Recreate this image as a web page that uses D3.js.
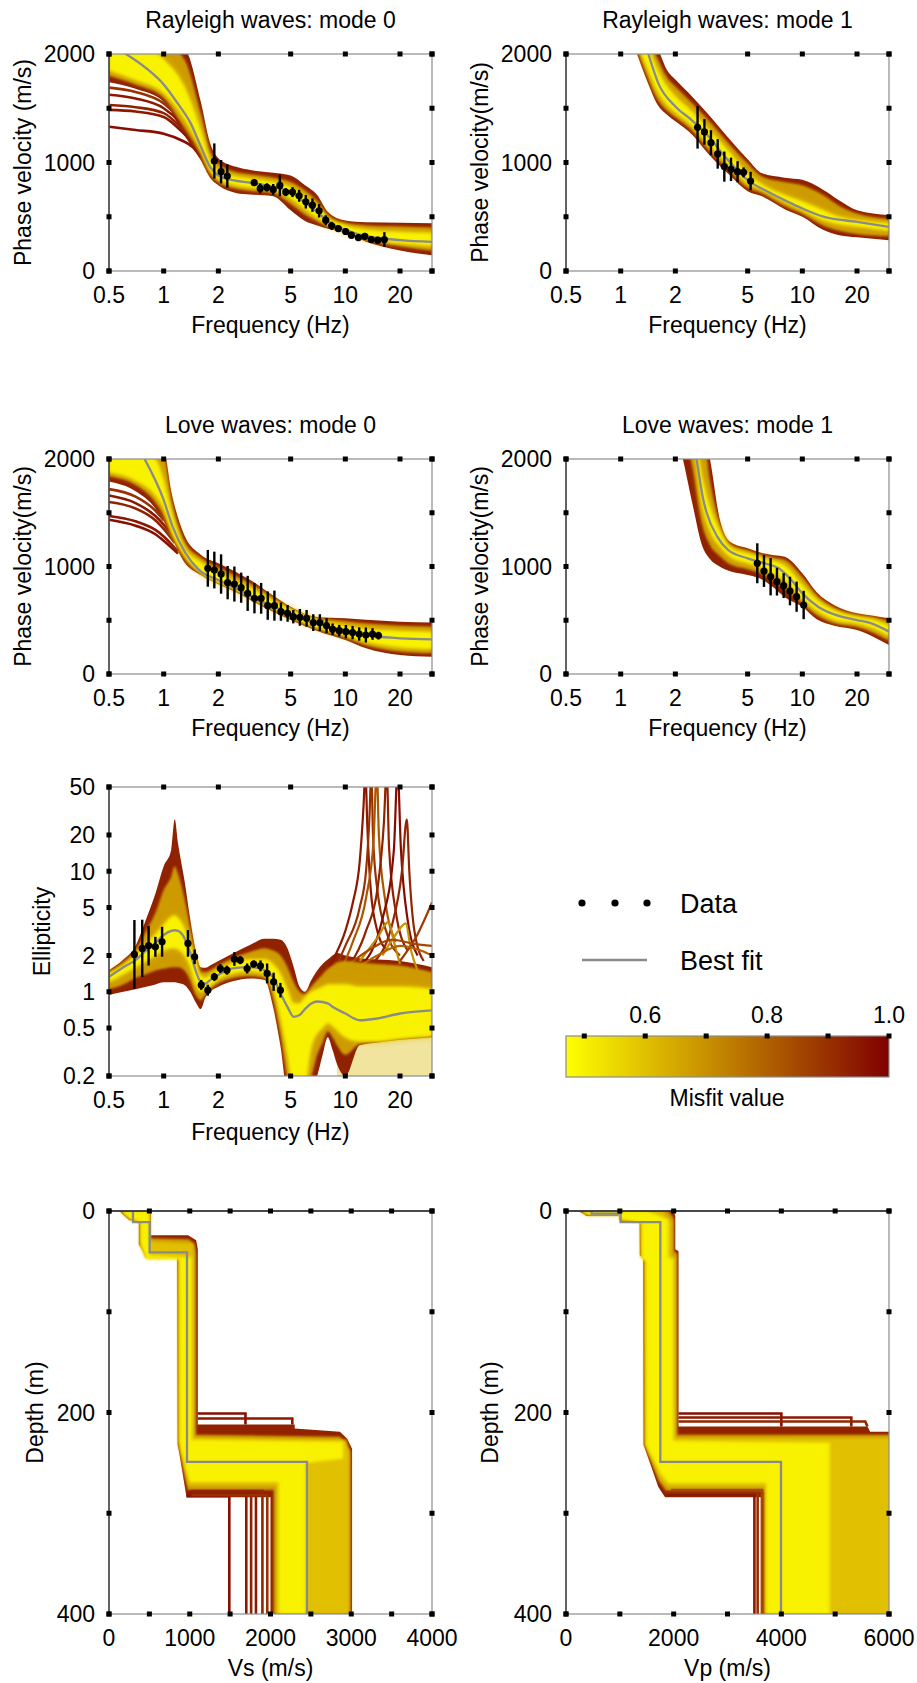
<!DOCTYPE html>
<html><head><meta charset="utf-8">
<script src="https://cdn.jsdelivr.net/npm/d3@7/dist/d3.min.js"></script>
<style>
html,body{margin:0;padding:0;background:#fff;}
svg text{font-family:"Liberation Sans",Arial,Helvetica,sans-serif;fill:#000;}
</style></head><body>
<svg id="chart" width="917" height="1683"></svg>
<script>
// ================= DATA =================
const freqTicks=[0.5,1,2,5,10,20,30];
const freqLabels=[[0.5,"0.5"],[1,"1"],[2,"2"],[5,"5"],[10,"10"],[20,"20"]];
const velTicks=[0,500,1000,1500,2000];
const velLabels=[0,1000,2000];
const ellTicks=[0.2,0.5,1,2,5,10,20,50];
const ellLabels=[[0.2,"0.2"],[0.5,"0.5"],[1,"1"],[2,"2"],[5,"5"],[10,"10"],[20,"20"],[50,"50"]];
const misfitTicks=[0.5,0.6,0.7,0.8,0.9,1.0];
const misfitLabels=[[0.6,"0.6"],[0.8,"0.8"],[1.0,"1.0"]];
const depthTicks=[0,100,200,300,400];
const depthLabels=[0,200,400];
const vsTicks=[0,500,1000,1500,2000,2500,3000,3500,4000];
const vsLabels=[0,1000,2000,3000,4000];
const vpTicks=[0,1000,2000,3000,4000,5000,6000];
const vpLabels=[0,2000,4000,6000];

// Rayleigh mode 0
const r0Freq=[0.5,0.7,1.0,1.3,1.6,1.8,2.0,2.5,3,4,5,6,7,8,10,13,20,30];
const r0OuterHi=[2100,2100,2100,2050,1560,1180,1040,960,930,905,880,790,700,545,465,450,445,440];
const r0OuterLo=[1740,1680,1560,1250,1020,860,790,720,705,690,560,460,420,390,350,270,190,145];
const r0MidHi=[2100,2100,2100,1950,1450,1100,990,910,890,860,820,740,640,510,440,420,410,400];
const r0MidLo=[1800,1720,1600,1320,1080,900,820,760,740,720,620,520,460,410,360,295,230,190];
const r0InnerHi=[2100,2100,1950,1700,1300,1030,930,870,850,820,770,690,600,490,420,380,360,350];
const r0InnerLo=[1850,1760,1640,1400,1120,930,850,790,770,750,670,570,490,430,360,300,255,230];
const r0Outliers=[
 [[0.5,1330],[0.7,1300],[1.0,1265],[1.25,1205],[1.45,1140],[1.6,1050]],
 [[0.5,1485],[0.7,1470],[1.0,1420],[1.25,1290],[1.45,1180]],
 [[0.5,1530],[0.7,1510],[1.0,1455],[1.25,1320],[1.45,1200]],
 [[0.5,1625],[0.7,1590],[1.0,1500],[1.25,1360],[1.45,1230]],
 [[0.5,1690],[0.7,1650],[1.0,1545],[1.25,1390]]];
const r0OutlierMisfit=[0.97,0.95,0.93,0.95,0.9];
const r0BestF=[0.5,0.62,0.8,1.0,1.2,1.4,1.6,1.8,2.0,2.4,3,4,5,6,7,8,10,12,15,20,30];
const r0BestV=[2090,2000,1870,1720,1540,1370,1150,960,880,838,814,777,725,630,545,460,380,335,305,285,268];
const r0DataF=[1.90,2.07,2.24,3.15,3.40,3.70,4.01,4.36,4.70,5.12,5.57,6.06,6.59,7.17,7.80,8.41,9.15,10.04,10.8,11.8,12.8,13.9,15.1,16.4];
const r0DataV=[1014,915,875,814,761,770,752,789,727,727,693,638,607,555,468,416,391,364,330,308,320,290,284,290];
const r0DataErr=[162,108,108,31,46,38,50,100,37,46,55,62,62,62,46,37,31,31,31,31,31,31,31,68];

// Rayleigh mode 1
const r1Freq=[1.2,1.4,1.6,1.8,2.0,2.5,3,4,5,6,8,10,13,16,20,30];
const r1OuterHi=[2300,2200,2050,1850,1765,1600,1455,1210,1030,900,860,840,750,650,560,515];
const r1OuterLo=[2050,1750,1530,1440,1380,1250,1090,880,735,690,570,500,380,330,310,284];
const r1MidHi=[2250,2150,1950,1780,1700,1540,1400,1160,990,870,820,790,700,600,530,480];
const r1MidLo=[2100,1800,1580,1480,1420,1290,1130,920,770,720,600,530,420,370,340,320];
const r1InnerHi=[2200,2080,1850,1700,1610,1460,1320,1090,900,800,700,640,560,500,470,440];
const r1InnerLo=[2150,1870,1650,1530,1460,1330,1180,970,810,750,640,560,470,430,410,370];
const r1BestF=[1.42,1.61,2.0,2.45,3.05,3.75,5.0,6.2,8.7,10,13.2,20,30];
const r1BestV=[2000,1732,1516,1393,1239,1054,838,746,623,576,499,453,407];
const r1DataF=[2.65,2.89,3.14,3.42,3.72,4.05,4.40,4.75,5.19];
const r1DataV=[1325,1282,1183,1079,962,937,915,909,829];
const r1DataErr=[197,118,115,136,139,108,97,46,85];

// Love mode 0
const l0Freq=[0.5,0.7,0.9,1.0,1.1,1.3,1.6,2.0,2.5,3,4,5,7,10,13,20,30];
const l0OuterHi=[2100,2100,2100,2080,1700,1290,1110,1030,950,875,730,626,530,518,505,487,478];
const l0OuterLo=[1790,1700,1540,1420,1280,1040,920,835,760,688,580,502,400,316,239,177,161];
const l0MidHi=[2100,2100,2100,2050,1620,1230,1080,990,910,840,710,615,520,490,470,450,440];
const l0MidLo=[1840,1760,1600,1480,1310,1080,935,845,775,705,595,520,420,340,270,210,195];
const l0InnerHi=[2100,2100,2000,1800,1520,1180,1040,940,860,800,680,600,500,450,420,400,390];
const l0InnerLo=[1880,1800,1660,1540,1340,1110,945,855,785,715,610,535,435,360,300,250,235];
const l0Outliers=[
 [[0.5,1435],[0.7,1380],[0.9,1300],[1.0,1240],[1.2,1120]],
 [[0.5,1470],[0.7,1420],[0.9,1340],[1.0,1280],[1.2,1140]],
 [[0.5,1600],[0.7,1540],[0.9,1430],[1.0,1350],[1.15,1220]],
 [[0.5,1660],[0.7,1590],[0.9,1470],[1.0,1390],[1.1,1300]],
 [[0.5,1720],[0.7,1650],[0.9,1520],[1.0,1430]]];
const l0OutlierMisfit=[0.97,0.95,0.93,0.95,0.9];
const l0BestF=[0.785,1.0,1.12,1.32,1.57,2.0,2.6,3.65,5.0,6.8,10,12.8,20,30];
const l0BestV=[2000,1619,1371,1123,967,874,781,657,564,471,409,363,332,322];
const l0DataF=[1.75,1.90,2.07,2.25,2.45,2.67,2.90,3.16,3.44,3.74,4.07,4.42,4.81,5.17,5.62,6.12,6.66,7.24,7.88,8.51,9.26,10.07,10.96,11.92,12.97,14.11,15.22];
const l0DataV=[983,967,930,850,837,803,750,704,704,636,636,580,564,533,527,518,478,478,450,416,403,394,385,372,363,372,357];
const l0DataErr=[171,171,183,155,163,140,163,140,143,132,140,85,78,62,78,78,78,78,70,54,54,62,62,62,70,54,36];

// Love mode 1
const l1Freq=[2.0,2.2,2.5,2.8,3.1,3.5,4,5,6,7,8,10,12,15,20,25,30];
const l1OuterHi=[2300,2300,2300,2300,2000,1450,1230,1169,1125,1105,1090,937,760,640,564,540,518];
const l1OuterLo=[2300,2000,1560,1200,1070,1000,955,921,880,800,715,626,510,450,409,340,270];
const l1MidHi=[2300,2300,2300,2300,1800,1400,1210,1150,1105,1080,1060,900,730,615,548,525,490];
const l1MidLo=[2300,2250,1900,1400,1200,1100,1020,975,930,860,790,660,550,475,440,380,310];
const l1InnerHi=[2300,2300,2300,1850,1560,1340,1180,1120,1080,1050,1010,830,690,590,530,500,450];
const l1InnerLo=[2300,2300,2150,1580,1330,1190,1090,1030,985,930,870,700,590,505,470,420,350];
const l1BestF=[2.62,2.85,2.98,3.4,3.9,5.0,6.2,7.4,8.7,10,12.2,16.4,20,24,30];
const l1BestV=[2000,1620,1495,1278,1154,1076,1030,983,874,750,626,533,502,471,394];
const l1DataF=[5.65,6.15,6.69,7.25,7.89,8.55,9.30,10.17];
const l1DataV=[1030,958,905,859,822,772,719,642];
const l1DataErr=[186,148,174,129,116,133,140,132];

// Ellipticity
const eFreq=[0.5,0.6,0.7,0.8,0.9,1.0,1.1,1.15,1.2,1.3,1.4,1.5,1.6,1.7,1.8,2.0,2.4,3.0,3.6,4.0,4.4,4.8,5.2,5.6,6.0,6.5,7.0,7.5,8.0,8.5,9.0,10,12,15,20,30];
const eOuterHi=[1.51,1.85,2.4,4.0,6.5,11,15,27,17,8.5,4.0,2.2,1.6,1.58,1.65,1.8,2.08,2.45,2.75,2.75,2.7,2.3,1.6,1.1,1.0,1.25,1.5,1.7,1.85,2.0,2.1,2.0,1.9,1.85,1.8,1.6];
const eOuterLo=[0.94,1.0,1.05,1.1,1.15,1.2,1.2,1.2,1.18,1.14,1.0,0.82,0.72,0.9,1.0,1.1,1.22,1.29,1.25,0.75,0.35,0.15,0.15,0.15,0.15,0.15,0.2,0.3,0.42,0.33,0.25,0.2,0.36,0.38,0.4,0.42];
const eMidHi=[1.45,1.75,2.2,3.2,4.5,7,9,11,9.5,6,3.4,2.0,1.45,1.45,1.5,1.65,1.9,2.15,2.3,2.2,2.0,1.6,1.2,1.0,0.95,1.1,1.25,1.4,1.55,1.65,1.75,1.8,1.75,1.7,1.65,1.45];
const eMidLo=[1.05,1.15,1.3,1.4,1.5,1.55,1.6,1.6,1.6,1.5,1.25,0.95,0.85,0.95,1.05,1.18,1.3,1.35,1.3,0.9,0.45,0.2,0.15,0.15,0.15,0.2,0.3,0.38,0.47,0.42,0.36,0.3,0.37,0.385,0.405,0.425];
const eInnerHi=[1.42,1.65,2.0,2.5,3.0,3.6,4.2,4.3,4.1,3.4,2.5,1.8,1.35,1.3,1.38,1.52,1.72,1.85,1.85,1.7,1.4,1.05,0.8,0.8,0.9,1.0,1.05,1.1,1.15,1.15,1.15,1.15,1.1,1.1,1.1,1.05];
const eInnerLo=[1.2,1.4,1.6,1.8,2.0,2.2,2.3,2.3,2.25,2.0,1.6,1.15,1.0,1.05,1.12,1.28,1.42,1.48,1.4,1.1,0.6,0.3,0.15,0.15,0.17,0.35,0.45,0.5,0.55,0.52,0.48,0.42,0.39,0.39,0.41,0.43];
const eSparseF=[9.0,10,12,15,20,30];
const eSparseLo=[0.15,0.15,0.15,0.15,0.15,0.15];
const eSparseHi=[0.25,0.38,0.4,0.41,0.42,0.44];
const eSpikes=[
 [[7.0,1.0],[8.5,1.8],[10,3.2],[11,5.5],[12,12],[12.6,35],[12.9,70],[13.2,25],[13.8,7],[15,3.2],[17,2.2]],
 [[8,1.2],[10,2.4],[12,5],[13,10],[13.6,30],[13.9,70],[14.2,20],[15,7],[17,3],[20,2]],
 [[9,1.3],[11,2.6],[13,6],[14.3,18],[14.9,70],[15.3,20],[16.5,6],[19,2.6]],
 [[10,1.5],[13,3.2],[15,7],[16.3,25],[16.9,70],[17.4,16],[19,4.5],[22,2.2]],
 [[12,1.6],[16,4],[18.5,15],[19.4,70],[20.2,16],[22,4],[25,2]],
 [[14,1.7],[18,3.5],[20.5,10],[21.8,27],[22.5,10],[24,3.2],[27,1.8]],
 [[12,1.8],[15,2.8],[17.3,3.8],[18.5,2.6],[20,1.7]],
 [[16,2.0],[19,3.0],[21.5,3.7],[23,2.2],[25,1.5]],
 [[20,1.8],[25,3.0],[30,5.5]],
 [[10,1.6],[14,2.3],[18,2.7],[24,2.5],[30,2.4]],
 [[11,1.5],[15,2.0],[20,2.4],[26,2.2],[30,2.0]]];
const eSpikeMisfit=[0.95,0.9,0.82,0.93,0.98,0.92,0.72,0.7,0.88,0.85,0.8];
const eBestF=[0.5,0.6,0.7,0.8,0.9,1.0,1.1,1.15,1.2,1.3,1.4,1.5,1.6,1.7,1.8,2.0,2.4,3.0,3.6,4.0,4.4,4.8,5.2,5.6,6.0,6.5,7.0,8.0,8.5,10,12,15,20,30];
const eBest=[1.33,1.6,1.83,2.2,2.55,2.96,3.2,3.24,3.2,2.8,2.1,1.5,1.2,1.17,1.25,1.38,1.56,1.6,1.51,1.32,0.97,0.75,0.62,0.64,0.72,0.8,0.83,0.8,0.75,0.66,0.58,0.6,0.66,0.70];
const eDataF=[0.69,0.762,0.826,0.90,0.98,1.36,1.48,1.61,1.75,1.90,2.05,2.23,2.45,2.64,2.88,3.13,3.41,3.71,4.03,4.39];
const eDataV=[2.04,2.29,2.41,2.36,2.60,2.52,1.95,1.14,1.03,1.33,1.56,1.51,1.87,1.83,1.56,1.70,1.64,1.42,1.21,1.03];
const eDataFac=[1.93,1.73,1.46,1.21,1.33,1.29,1.15,1.10,1.11,1.08,1.09,1.09,1.14,1.08,1.10,1.07,1.11,1.21,1.19,1.15];

// Vs profiles  ([Vs, depth])
const vsRed=[[130,0],[520,0],[520,24],[980,24],[1080,29],[1100,38],[1100,212],[2300,212],[2300,216],[2860,219],[2950,226],[3010,236],[3010,400],[2000,400],[2000,284],[960,284],[935,272],[870,240],[850,232],[845,45],[455,45],[425,40],[370,33],[370,11],[250,9],[180,4],[130,0]];
const vsOrange=[[140,0],[512,0],[512,27],[990,28],[1060,33],[1075,42],[1075,222],[2860,224],[2990,238],[2990,400],[2040,400],[2040,277],[975,277],[945,266],[875,238],[858,231],[853,46],[452,46],[428,41],[378,33],[378,11],[252,8.5],[182,3.5],[140,0]];
const vsGold=[[150,0],[506,0],[506,30],[1040,32],[1052,44],[1052,225],[2940,227],[2975,240],[2975,400],[2070,400],[2070,273],[990,273],[955,262],[882,236],[866,229],[862,47],[458,47],[432,42],[386,33],[386,11],[256,8],[186,3],[150,0]];
const vsYellow=[[165,0],[498,0],[498,44],[1025,46],[1025,227],[2900,229],[2900,246],[2440,250],[2440,400],[2100,400],[2100,269],[1000,269],[962,259],[888,235],[875,228],[872,48],[466,48],[440,42],[395,33],[395,11],[262,7.5],[192,2.5],[165,0]];
const vsOutliers=[
 [[960,283],[1490,283],[1490,400]],[[980,281],[1700,281],[1700,400]],[[990,280],[1760,280],[1760,400]],
 [[1000,279],[1820,279],[1820,400]],[[1010,278],[1900,278],[1900,400]],[[1020,282],[1960,282],[1960,400]],
 [[1100,201],[1690,201],[1690,212]],[[1100,206],[2270,206],[2270,212]]];
const vsOutlierMisfit=[0.97,0.95,0.93,0.95,0.92,0.9,0.97,0.95];
const vsBestDepth=[0,11,41,249,400];
const vsBest=[297,504,966,2452];

// Vp profiles ([Vp, depth])
const vpRed=[[230,0],[2000,0],[2030,5],[2030,38],[2090,40],[2090,214],[5600,214],[5650,219],[6100,219],[6100,400],[3620,400],[3620,284],[1840,284],[1715,274],[1560,250],[1440,232],[1435,46],[1372,44],[1368,11],[1000,11],[990,5],[380,5],[330,3],[230,0]];
const vpOrange=[[250,0],[1900,0],[1960,4],[2005,8],[2005,40],[2065,42],[2065,222],[6050,222],[6050,400],[3680,400],[3680,278],[1860,278],[1725,268],[1575,248],[1455,232],[1450,47],[1385,45],[1380,10.5],[1005,10],[995,4.5],[385,4.5],[335,2.5],[250,0]];
const vpGold=[[270,0],[1800,0],[1870,5],[1960,10],[1960,44],[2030,46],[2030,225],[6030,225],[6030,400],[3700,400],[3700,274],[1880,274],[1735,265],[1595,247],[1470,232],[1465,48],[1398,46],[1392,10],[1008,9],[998,4],[390,4],[340,2],[270,0]];
const vpYellow=[[300,0],[1500,0],[1700,4],[1900,9],[1900,46],[1990,48],[1990,228],[4900,230],[4900,400],[3720,400],[3720,270],[1900,270],[1750,260],[1615,246],[1490,232],[1485,50],[1410,48],[1405,12],[1012,8],[1002,3],[400,3],[345,1.5],[300,0]];
const vpOutliers=[
 [[1880,282],[3500,282],[3500,400]],[[1860,279],[3560,279],[3560,400]],[[1950,277],[3640,277],[3640,400]],
 [[2090,201],[4000,201],[4000,214]],[[2090,205],[5300,205],[5300,214]],[[2090,209],[5560,209],[5600,214]]];
const vpOutlierMisfit=[0.95,0.9,0.85,0.97,0.95,0.92];
const vpBestDepth=[0,2.6,11,249,400];
const vpBest=[477,1015,1752,3994];

// ================= DRAWING =================
const svg=d3.select("#chart");
const defs=svg.append("defs");
const cmap=d3.scaleLinear().domain([0.47,1.0]).range(["#ffff00","#800000"]).interpolate(d3.interpolateRgb).clamp(true);
const RED=cmap(0.93), ORANGE=cmap(0.68), GOLD=cmap(0.6), YELLOW=cmap(0.5);
const GRAY="#8a8a8a";
const FS=23;
function blur(id,s){defs.append("filter").attr("id",id).attr("x","-20%").attr("y","-20%").attr("width","140%").attr("height","140%")
  .append("feGaussianBlur").attr("stdDeviation",s);}
blur("b1",1.0); blur("b2",1.6); blur("b4",3.5);
function addClip(id,x0,y0,x1,y1){defs.append("clipPath").attr("id",id).append("rect").attr("x",x0).attr("y",y0).attr("width",x1-x0).attr("height",y1-y0);}
function txt(x,y,s,size,anchor){return svg.append("text").attr("x",x).attr("y",y).attr("font-size",size).attr("text-anchor",anchor||"middle").text(s);}
function frame(x0,y0,x1,y1,xPix,yPix,darkTop){
  svg.append("rect").attr("x",x0).attr("y",y0).attr("width",x1-x0).attr("height",y1-y0).attr("fill","none").attr("stroke","#8c8c8c").attr("stroke-width",1.2);
  svg.append("line").attr("x1",x0).attr("x2",x0).attr("y1",y0).attr("y2",y1).attr("stroke","#333").attr("stroke-width",1.3);
  if(darkTop) svg.append("line").attr("x1",x0).attr("x2",x1).attr("y1",y0).attr("y2",y0).attr("stroke","#222").attr("stroke-width",1.3);
  const pts=[];
  xPix.forEach(p=>{pts.push([p,y0]);pts.push([p,y1]);});
  yPix.forEach(p=>{pts.push([x0,p]);pts.push([x1,p]);});
  svg.append("g").selectAll("rect").data(pts).join("rect").attr("x",d=>d[0]-2.5).attr("y",d=>d[1]-2.5).attr("width",5).attr("height",5).attr("fill","#000");
}
function yTitle(x,y,s,size){svg.append("text").attr("transform",`translate(${x},${y}) rotate(-90)`).attr("dy","0.35em").attr("font-size",size).attr("text-anchor","middle").text(s);}

function dispersion(o){
  const x=d3.scaleLog().domain([0.5,30]).range([o.x0,o.x1]);
  const y=d3.scaleLinear().domain([0,2000]).range([o.y1,o.y0]);
  addClip(o.id,o.x0,o.y0,o.x1,o.y1);
  const g=svg.append("g").attr("clip-path",`url(#${o.id})`);
  const band=(lo,hi)=>d3.area().x(d=>x(d)).y0((d,i)=>y(lo[i])).y1((d,i)=>y(hi[i])).curve(d3.curveMonotoneX)(o.freq);
  const line=d3.line().x(d=>x(d[0])).y(d=>y(d[1])).curve(d3.curveMonotoneX);
  g.append("path").attr("d",band(o.outerLo,o.outerHi)).attr("fill",RED);
  (o.outliers||[]).forEach((c,i)=>g.append("path").attr("d",line(c)).attr("fill","none").attr("stroke",cmap(o.outlierMisfit[i])).attr("stroke-width",2.6));
  g.append("path").attr("d",band(o.midLo,o.midHi)).attr("fill",ORANGE).attr("filter","url(#b1)");
  g.append("path").attr("d",band(o.innerLo,o.innerHi)).attr("fill",GOLD).attr("filter","url(#b4)");
  g.append("path").attr("d",band(o.innerLo,o.innerHi)).attr("fill",YELLOW).attr("filter","url(#b2)");
  g.append("path").attr("d",line(o.bestF.map((f,i)=>[f,o.bestV[i]]))).attr("fill","none").attr("stroke",GRAY).attr("stroke-width",2.3);
  const dg=svg.append("g");
  o.dataF.forEach((f,i)=>{
    dg.append("line").attr("x1",x(f)).attr("x2",x(f)).attr("y1",y(o.dataV[i]-o.dataErr[i])).attr("y2",y(o.dataV[i]+o.dataErr[i])).attr("stroke","#000").attr("stroke-width",2.4);
  });
  o.dataF.forEach((f,i)=>dg.append("circle").attr("cx",x(f)).attr("cy",y(o.dataV[i])).attr("r",3.6).attr("fill","#000"));
  frame(o.x0,o.y0,o.x1,o.y1,freqTicks.map(x),velTicks.map(y),false);
  freqLabels.forEach(([v,s])=>txt(x(v),o.y1+32,s,FS));
  velLabels.forEach(v=>txt(o.x0-14,y(v),v,FS,"end").attr("dy","0.36em"));
  txt((o.x0+o.x1)/2,o.y1+62,"Frequency (Hz)",FS);
  txt((o.x0+o.x1)/2,o.y0-26,o.title,FS);
  yTitle(o.x0-86,(o.y0+o.y1)/2,o.yTitle,FS);
}

dispersion({id:"c1",x0:109,x1:432,y0:54,y1:271,title:"Rayleigh waves: mode 0",yTitle:"Phase velocity (m/s)",
  freq:r0Freq,outerHi:r0OuterHi,outerLo:r0OuterLo,midHi:r0MidHi,midLo:r0MidLo,innerHi:r0InnerHi,innerLo:r0InnerLo,
  outliers:r0Outliers,outlierMisfit:r0OutlierMisfit,bestF:r0BestF,bestV:r0BestV,dataF:r0DataF,dataV:r0DataV,dataErr:r0DataErr});
dispersion({id:"c2",x0:566,x1:889,y0:54,y1:271,title:"Rayleigh waves: mode 1",yTitle:"Phase velocity(m/s)",
  freq:r1Freq,outerHi:r1OuterHi,outerLo:r1OuterLo,midHi:r1MidHi,midLo:r1MidLo,innerHi:r1InnerHi,innerLo:r1InnerLo,
  bestF:r1BestF,bestV:r1BestV,dataF:r1DataF,dataV:r1DataV,dataErr:r1DataErr});
dispersion({id:"c3",x0:109,x1:432,y0:459,y1:674,title:"Love waves: mode 0",yTitle:"Phase velocity(m/s)",
  freq:l0Freq,outerHi:l0OuterHi,outerLo:l0OuterLo,midHi:l0MidHi,midLo:l0MidLo,innerHi:l0InnerHi,innerLo:l0InnerLo,
  outliers:l0Outliers,outlierMisfit:l0OutlierMisfit,bestF:l0BestF,bestV:l0BestV,dataF:l0DataF,dataV:l0DataV,dataErr:l0DataErr});
dispersion({id:"c4",x0:566,x1:889,y0:459,y1:674,title:"Love waves: mode 1",yTitle:"Phase velocity(m/s)",
  freq:l1Freq,outerHi:l1OuterHi,outerLo:l1OuterLo,midHi:l1MidHi,midLo:l1MidLo,innerHi:l1InnerHi,innerLo:l1InnerLo,
  bestF:l1BestF,bestV:l1BestV,dataF:l1DataF,dataV:l1DataV,dataErr:l1DataErr});

// Ellipticity panel
(function(){
  const x0=109,x1=432,y0=787,y1=1076;
  const x=d3.scaleLog().domain([0.5,30]).range([x0,x1]);
  const y=d3.scaleLog().domain([0.2,50]).range([y1,y0]);
  addClip("c5",x0,y0,x1,y1);
  const g=svg.append("g").attr("clip-path","url(#c5)");
  const band=(F,lo,hi)=>d3.area().x(d=>x(d)).y0((d,i)=>y(lo[i])).y1((d,i)=>y(hi[i])).curve(d3.curveMonotoneX)(F);
  const line=d3.line().x(d=>x(d[0])).y(d=>y(d[1])).curve(d3.curveMonotoneX);
  g.append("path").attr("d",band(eSparseF,eSparseLo,eSparseHi)).attr("fill",cmap(0.62)).attr("opacity",0.38);
  g.append("path").attr("d",band(eFreq,eOuterLo,eOuterHi)).attr("fill",RED);
  eSpikes.forEach((c,i)=>g.append("path").attr("d",line(c)).attr("fill","none").attr("stroke",cmap(eSpikeMisfit[i])).attr("stroke-width",2.2));
  g.append("path").attr("d",band(eFreq,eMidLo,eMidHi)).attr("fill",ORANGE).attr("filter","url(#b1)");
  g.append("path").attr("d",band(eFreq,eInnerLo,eInnerHi)).attr("fill",GOLD).attr("filter","url(#b4)");
  g.append("path").attr("d",band(eFreq,eInnerLo,eInnerHi)).attr("fill",YELLOW).attr("filter","url(#b2)");
  g.append("path").attr("d",line(eBestF.map((f,i)=>[f,eBest[i]]))).attr("fill","none").attr("stroke",GRAY).attr("stroke-width",2.3);
  const dg=svg.append("g");
  eDataF.forEach((f,i)=>dg.append("line").attr("x1",x(f)).attr("x2",x(f)).attr("y1",y(eDataV[i]/eDataFac[i])).attr("y2",y(eDataV[i]*eDataFac[i])).attr("stroke","#000").attr("stroke-width",2.4));
  eDataF.forEach((f,i)=>dg.append("circle").attr("cx",x(f)).attr("cy",y(eDataV[i])).attr("r",3.6).attr("fill","#000"));
  frame(x0,y0,x1,y1,freqTicks.map(x),ellTicks.map(y),false);
  freqLabels.forEach(([v,s])=>txt(x(v),y1+32,s,FS));
  ellLabels.forEach(([v,s])=>txt(x0-14,y(v),s,FS,"end").attr("dy","0.36em"));
  txt((x0+x1)/2,y1+64,"Frequency (Hz)",FS);
  yTitle(x0-67,(y0+y1)/2,"Ellipticity",FS);
})();

// Legend
(function(){
  const dotX=[582,615,647];
  dotX.forEach(cx=>svg.append("circle").attr("cx",cx).attr("cy",903).attr("r",3.6).attr("fill","#000"));
  txt(680,913,"Data",27,"start");
  svg.append("line").attr("x1",582).attr("x2",647).attr("y1",960).attr("y2",960).attr("stroke",GRAY).attr("stroke-width",2.5);
  txt(680,970,"Best fit",27,"start");
  const cb=d3.scaleLinear().domain([0.47,1.0]).range([566,889]);
  const grad=defs.append("linearGradient").attr("id","cbg").attr("x1","0%").attr("x2","100%").attr("y1","0%").attr("y2","0%");
  grad.append("stop").attr("offset","0%").attr("stop-color",cmap(0.47));
  grad.append("stop").attr("offset","100%").attr("stop-color",cmap(1.0));
  svg.append("rect").attr("x",cb(0.47)).attr("y",1036).attr("width",cb(1.0)-cb(0.47)).attr("height",41).attr("fill","url(#cbg)").attr("stroke","#8c8c8c").attr("stroke-width",1.2);
  svg.append("g").selectAll("rect").data(misfitTicks).join("rect").attr("x",d=>cb(d)-2.5).attr("y",1036-2.5).attr("width",5).attr("height",5).attr("fill","#000");
  misfitLabels.forEach(([v,s])=>txt(cb(v),1023,s,FS));
  txt(727,1106,"Misfit value",FS);
})();

// Depth profile panels
function depthPanel(o){
  const x=d3.scaleLinear().domain([0,o.xMax]).range([o.x0,o.x1]);
  const y=d3.scaleLinear().domain([0,400]).range([o.y0,o.y1]);
  addClip(o.id,o.x0,o.y0,o.x1,o.y1);
  const g=svg.append("g").attr("clip-path",`url(#${o.id})`);
  const poly=d3.line().x(d=>x(d[0])).y(d=>y(d[1]));
  g.append("path").attr("d",poly(o.red)+"Z").attr("fill",RED);
  g.append("path").attr("d",poly(o.orange)+"Z").attr("fill",ORANGE).attr("filter","url(#b1)");
  g.append("path").attr("d",poly(o.gold)+"Z").attr("fill",GOLD).attr("filter","url(#b2)");
  g.append("path").attr("d",poly(o.yellow)+"Z").attr("fill",YELLOW).attr("filter","url(#b2)");
  o.outliers.forEach((c,i)=>g.append("path").attr("d",poly(c)).attr("fill","none").attr("stroke",cmap(o.outlierMisfit[i])).attr("stroke-width",2.6));
  const steps=[];
  o.best.forEach((v,i)=>{steps.push([v,o.bestDepth[i]]);steps.push([v,o.bestDepth[i+1]]);});
  g.append("path").attr("d",poly(steps)).attr("fill","none").attr("stroke",GRAY).attr("stroke-width",2.3);
  frame(o.x0,o.y0,o.x1,o.y1,o.xTicks.map(x),depthTicks.map(y),true);
  o.xLabels.forEach(v=>txt(x(v),o.y1+32,v,FS));
  depthLabels.forEach(v=>txt(o.x0-14,y(v),v,FS,"end").attr("dy","0.36em"));
  txt((o.x0+o.x1)/2,o.y1+62,o.xTitle,FS);
  yTitle(o.x0-o.yOff,(o.y0+o.y1)/2,"Depth (m)",FS);
}
depthPanel({id:"c6",x0:109,x1:432,y0:1211,y1:1614,xMax:4000,xTicks:vsTicks,xLabels:vsLabels,xTitle:"Vs (m/s)",yOff:74,
  red:vsRed,orange:vsOrange,gold:vsGold,yellow:vsYellow,outliers:vsOutliers,outlierMisfit:vsOutlierMisfit,best:vsBest,bestDepth:vsBestDepth});
depthPanel({id:"c7",x0:566,x1:889,y0:1211,y1:1614,xMax:6000,xTicks:vpTicks,xLabels:vpLabels,xTitle:"Vp (m/s)",yOff:76,
  red:vpRed,orange:vpOrange,gold:vpGold,yellow:vpYellow,outliers:vpOutliers,outlierMisfit:vpOutlierMisfit,best:vpBest,bestDepth:vpBestDepth});
</script></body></html>
